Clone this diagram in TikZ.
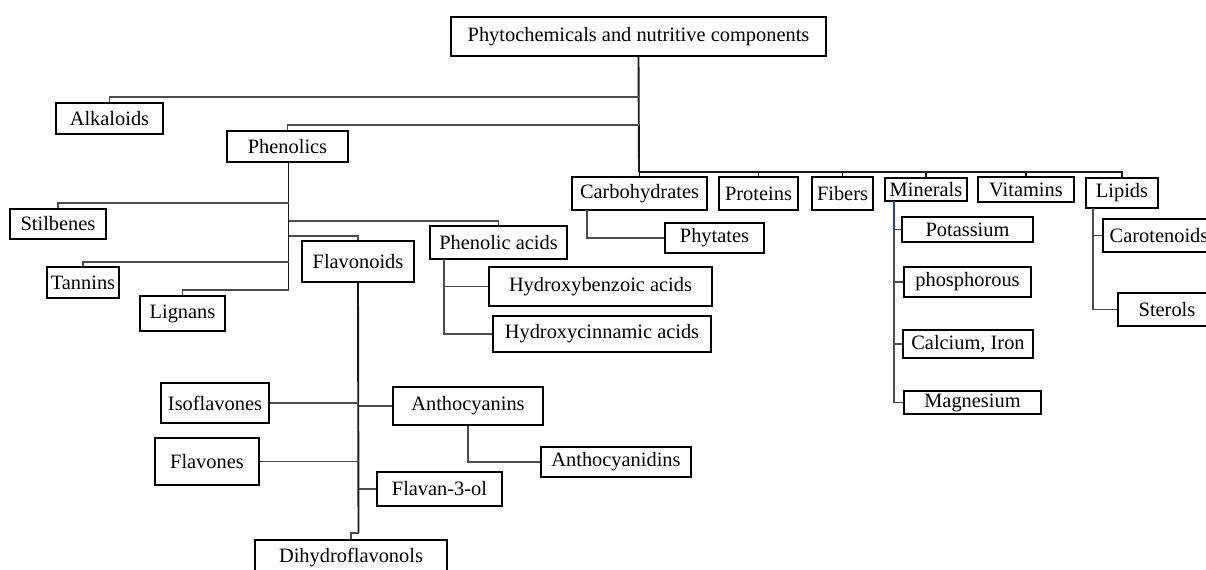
\documentclass[tikz,border=0pt]{standalone}
\usepackage{fontspec}
\setmainfont{Liberation Serif}

\begin{document}
\begin{tikzpicture}[x=0.5pt, y=-0.5pt,
box/.style={draw, line width=1pt, inner sep=0pt, font=\fontsize{10.2}{12}\selectfont},
sz/.style 2 args={minimum width=#1*0.5pt, minimum height=#2*0.5pt},
link/.style={draw=black!70, line width=0.6pt},
trunk/.style={draw=black!90, line width=0.95pt}]
\useasboundingbox (0,0) rectangle (1206,569);

% top
\node[box, sz={375}{39}] (root) at (638.5,36.5) {Phytochemicals and nutritive components};
\node[box, sz={107}{31}] (alk) at (109.5,118.5) {Alkaloids};
\node[box, sz={121}{31}] (phen) at (287.5,146.5) {Phenolics};

\node[box, sz={135}{33}] (carb) at (639.5,193.5) {Carbohydrates};
\node[box, sz={79}{33}] (prot) at (758.5,193.5) {Proteins};
\node[box, sz={61}{33}] (fib) at (842.5,193.5) {Fibers};
\node[box, sz={82}{23}] (min) at (926,189.5) {Minerals};
\node[box, sz={96}{25}] (vit) at (1026,189.5) {Vitamins};
\node[box, sz={72}{30}] (lip) at (1122,193) {Lipids};

% phenolics
\node[box, sz={96}{30}] (stil) at (58,224) {Stilbenes};
\node[box, sz={72}{31}] (tan) at (83,282.5) {Tannins};
\node[box, sz={85}{35}] (lig) at (182.5,313.5) {Lignans};
\node[box, sz={112}{41}] (flav) at (358,261.5) {Flavonoids};
\node[box, sz={137}{33}] (pacid) at (498.5,242.5) {Phenolic acids};
\node[box, sz={223}{39}] (hba) at (600.5,286.5) {Hydroxybenzoic acids};
\node[box, sz={218}{36}] (hca) at (602,334) {Hydroxycinnamic acids};

% flavonoids
\node[box, sz={108}{40}] (iso) at (215,403) {Isoflavones};
\node[box, sz={150}{38}] (antho) at (468,406) {Anthocyanins};
\node[box, sz={104}{47}] (flavs) at (207,461.5) {Flavones};
\node[box, sz={125}{34}] (fl3) at (439.5,489) {Flavan-3-ol};
\node[box, sz={150}{30}] (acy) at (616,462) {Anthocyanidins};
\node[box, sz={192}{36}] (dhf) at (351,558) {Dihydroflavonols};

% nutritive
\node[box, sz={99}{30}] (phyt) at (714.5,238) {Phytates};
\node[box, sz={131}{25}] (pot) at (967.5,229.5) {Potassium};
\node[box, sz={127}{30}] (phos) at (967.5,282) {phosphorous};
\node[box, sz={130}{28}] (cafe) at (968,344) {Calcium, Iron};
\node[box, sz={137}{23}] (mag) at (972.5,402.5) {Magnesium};
\node[box, sz={112}{33}] (caro) at (1159,235.5) {Carotenoids};
\node[box, sz={98}{33}] (ster) at (1167,309.5) {Sterols};

% joints
\coordinate (bus) at (639,172);
\coordinate (jalk) at (639,97);
\coordinate (jphen) at (639,125);
\coordinate (jstil) at (288.5,203);
\coordinate (jpac) at (288.5,221);
\coordinate (jflav) at (288.5,236);
\coordinate (jtan) at (288.5,262);
\coordinate (jlig) at (288.5,290);
\coordinate (pacfoot) at (444,259);
\coordinate (carbfoot) at (587,210);
\coordinate (minfoot) at (894,201);
\coordinate (lipfoot) at (1093,208);
\coordinate (jog) at (358.5,533);

\draw[trunk] (root.south) -- (bus);
\foreach \n in {carb,prot,fib,min,vit,lip}
  \draw[trunk] (\n.north) |- (bus);
\draw[link] (alk.north) |- (jalk);
\draw[link] (phen.north) |- (jphen);

\draw[trunk] (phen.south -| jlig) -- (jlig);
\foreach \n/\j in {stil/jstil, pacid/jpac, flav/jflav, tan/jtan, lig/jlig}
  \draw[link] (\n.north) |- (\j);
\draw[link] (pacfoot) |- (hba.west);
\draw[link] (pacfoot) |- (hca.west);

\draw[link] (carbfoot) |- (phyt.west);
\foreach \n in {phos,cafe,mag}
  \draw[link] (minfoot) |- (\n.west);
\draw[draw={rgb,255:red,40;green,70;blue,140}, line width=0.7pt] (minfoot) |- (pot.west);
\draw[link] (lipfoot) |- (caro.west);
\draw[link] (lipfoot) |- (ster.west);

\draw[trunk] (flav.south) -- (jog);
\draw[link] (jog) -| (dhf.north);
\draw[link] (iso.east) -- (iso.east -| jog);
\draw[link] (flavs.east) -- (flavs.east -| jog);
\draw[link] (antho.west) -- (antho.west -| jog);
\draw[link] (fl3.west) -- (fl3.west -| jog);
\draw[link] (antho.south) |- (acy.west);
\end{tikzpicture}
\end{document}
